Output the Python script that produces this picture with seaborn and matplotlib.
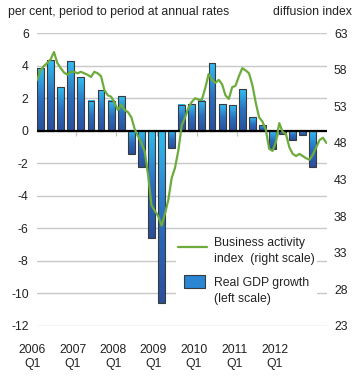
import numpy as np
import pandas as pd
import matplotlib
matplotlib.use('Agg')
import matplotlib.pyplot as plt
import matplotlib.patches as mpatches
import matplotlib.transforms as mtransforms
from matplotlib.lines import Line2D
from matplotlib.legend_handler import HandlerPatch
from matplotlib.colors import LinearSegmentedColormap
import seaborn as sns

# Real GDP growth, quarterly, 2006Q1 - 2012Q4 (per cent, annual rates)
quarters = [f'{y}Q{q}' for y in range(2006, 2013) for q in range(1, 5)]
gdp = [3.85, 4.35, 2.7, 4.25, 3.3, 1.85, 2.5, 1.85,
       2.15, -1.45, -2.25, -6.6, -10.6, -1.05, 1.6, 1.65,
       1.85, 4.15, 1.65, 1.55, 2.55, 0.85, 0.35, -1.1,
       -0.2, -0.6, -0.25, -2.25]

# Business activity index, monthly, Jan 2006 - Mar 2013 (diffusion index)
bai = [56.6, 57.9, 58.5, 58.9, 59.4, 60.4, 58.9, 58.2, 57.6, 57.3,
       57.7, 57.7, 57.5, 57.7, 57.5, 57.3, 57.0, 57.7, 57.5, 57.1,
       55.2, 54.5, 54.3, 53.5, 52.5, 53.2, 52.5, 52.2, 51.5, 49.9,
       48.9, 48.0, 46.8, 43.6, 39.5, 38.7, 38.0, 36.7, 38.3, 40.2,
       43.2, 44.6, 47.0, 50.4, 51.5, 52.8, 53.6, 54.1, 53.9, 53.9,
       55.5, 57.4, 56.6, 56.2, 56.6, 56.0, 54.5, 54.0, 55.6, 55.8,
       57.1, 58.2, 57.9, 57.5, 55.9, 53.5, 51.5, 50.9, 49.8, 47.2,
       46.9, 48.1, 50.7, 49.5, 49.2, 47.4, 46.5, 46.2, 46.5, 46.2,
       45.9, 45.7, 46.4, 47.4, 48.4, 48.7, 48.0]

years = list(range(2006, 2013))
year_labels = [f'{y}\nQ1' for y in years]

sns.set_style('white')
plt.rcParams['font.family'] = ['Liberation Sans', 'DejaVu Sans']
plt.rcParams['font.size'] = 8.8
plt.rcParams['axes.unicode_minus'] = False
txt = '#222222'

fig = plt.figure(figsize=(3.6, 3.89), dpi=100)
ax = fig.add_axes([37 / 360, 1 - 326 / 389, 290 / 360, 293 / 389])

sns.barplot(x=quarters, y=gdp, ax=ax, width=0.68, color='#2a7fcf',
            edgecolor='#3a3a3a', linewidth=0.8, zorder=3)

# vertical gradient inside each bar
cmap = LinearSegmentedColormap.from_list('bars', ['#2a4f9c', '#2b6fc0', '#33bdf0'])
grad = np.linspace(0, 1, 64).reshape(-1, 1)
for p in ax.patches:
    x0, y0 = p.get_x(), p.get_y()
    w, h = p.get_width(), p.get_height()
    ylo, yhi = min(y0, y0 + h), max(y0, y0 + h)
    ax.imshow(grad, extent=[x0, x0 + w, ylo, yhi], origin='lower',
              aspect='auto', cmap=cmap, zorder=2.5, interpolation='bilinear')
    p.set_facecolor('none')

# monthly positions on the quarterly axis (Feb = quarter centre)
month_pos = np.arange(len(bai)) / 3 - 1 / 3

ax.set_ylim(-12, 6)
ax.set_yticks(np.arange(-12, 7, 2))
ax.set_xlim(-0.35, 28.4)
ax.set_xticks([])
# year labels sit slightly left of the first quarter's bar
xlab = mtransforms.blended_transform_factory(ax.transData, ax.transAxes)
for i, lab in enumerate(year_labels):
    ax.text(4 * i - 0.8, -0.063, lab, transform=xlab, ha='center', va='top',
            color=txt, linespacing=1.2, clip_on=False)
ax.tick_params(axis='y', length=0, pad=6, labelcolor=txt)
ax.yaxis.grid(True, color='#c8c8c8', lw=1.0)
ax.set_axisbelow(True)
ax.axhline(0, color='black', lw=1.6, zorder=4)
ax.vlines([4 * i - 0.5 for i in range(len(years))], -0.3, 0,
          color='#c0c0c0', lw=0.8, zorder=1)
for s in ax.spines.values():
    s.set_visible(False)

ax2 = ax.twinx()
sns.lineplot(x=month_pos, y=bai, ax=ax2, color='#6cab3c', lw=1.6, zorder=5)
ax2.set_ylim(23, 63)
ax2.set_yticks(np.arange(23, 64, 5))
ax2.tick_params(axis='y', length=0, pad=5, labelcolor=txt)
ax2.set_xlim(-0.35, 28.4)
for s in ax2.spines.values():
    s.set_visible(False)


def bar_patch(legend, orig_handle, xdescent, ydescent, width, height, fontsize):
    return mpatches.Rectangle((-xdescent + 0.2 * width, height / 2 - 0.5 * fontsize),
                              0.76 * width, fontsize)


handles = [Line2D([], [], color='#6cab3c', lw=1.6),
           mpatches.Patch(facecolor='#2a86d2', edgecolor='#3a3a3a', lw=0.8)]
labels = ['Business activity\nindex  (right scale)', 'Real GDP growth\n(left scale)']
leg = ax2.legend(handles, labels, loc='upper left',
                 bbox_to_anchor=(176 / 360, 1 - 235 / 389),
                 bbox_transform=fig.transFigure, frameon=True, fancybox=False,
                 framealpha=1, facecolor='white', edgecolor='none',
                 handlelength=2.3, handleheight=3.2, labelspacing=0.9,
                 handletextpad=0.6, borderpad=0.2, borderaxespad=0,
                 handler_map={mpatches.Patch: HandlerPatch(patch_func=bar_patch)})
for t in leg.get_texts():
    t.set_color(txt)
    t.set_linespacing(1.4)

fig.text(8 / 360, 1 - 12 / 389, 'per cent, period to period at annual rates',
         va='center', ha='left', color=txt)
fig.text(352 / 360, 1 - 12 / 389, 'diffusion index', va='center', ha='right', color=txt)

fig.savefig('out.png', dpi=100)
